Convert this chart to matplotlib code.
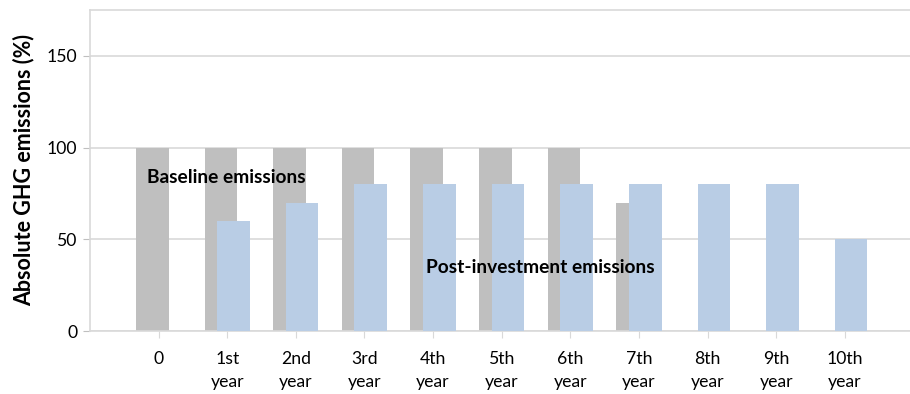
import matplotlib
matplotlib.use("Agg")
import matplotlib.pyplot as plt
import numpy as np

categories = ["0", "1st\nyear", "2nd\nyear", "3rd\nyear", "4th\nyear", "5th\nyear",
              "6th\nyear", "7th\nyear", "8th\nyear", "9th\nyear", "10th\nyear"]
baseline = [100, 100, 100, 100, 100, 100, 100, 70, 0, 0, 0]
post_investment = [0, 60, 70, 80, 80, 80, 80, 80, 80, 80, 50]
yticks = [0, 50, 100, 150]

plt.rcParams['font.family'] = ['Lato', 'DejaVu Sans']

fig = plt.figure(figsize=(9.10, 3.94), dpi=100)
ax = fig.add_axes([90/910, 1 - 331/394, (912 - 90)/910, (331 - 10)/394])

x = np.arange(len(categories))
w = 0.475
off = 0.092
grid_c = "#D9D9D9"
ax.bar(x - off, baseline, width=w, color="#BFBFBF", zorder=2)
ax.bar(x + off, post_investment, width=w, color="#B9CDE5", zorder=3)

ax.set_xlim(-1, 10.98)
ax.set_ylim(0, 175)
ax.set_yticks(yticks)
ax.set_xticks(x)
ax.set_xticklabels(categories, fontsize=12.7, linespacing=1.55)
ax.tick_params(axis='y', labelsize=12.7, length=5, color="#BFBFBF", pad=4)
ax.tick_params(axis='x', length=5, color="#D9D9D9", pad=9.5)
ax.yaxis.grid(True, color=grid_c, linewidth=1.2, zorder=0)
ax.set_axisbelow(True)
for s in ["left", "bottom", "top"]:
    ax.spines[s].set_color(grid_c)
    ax.spines[s].set_linewidth(1.2)
ax.spines["right"].set_visible(False)

ax.set_ylabel("Absolute GHG emissions (%)", fontsize=15.5, fontweight="bold", labelpad=9)

ax.text(-0.17, 83.6, "Baseline emissions", fontsize=13.8, fontweight="bold",
        va="center", ha="left", zorder=5)
ax.text(3.89, 34.4, "Post-investment emissions", fontsize=13.8, fontweight="bold",
        va="center", ha="left", zorder=5)

fig.savefig("out.png", dpi=100)
